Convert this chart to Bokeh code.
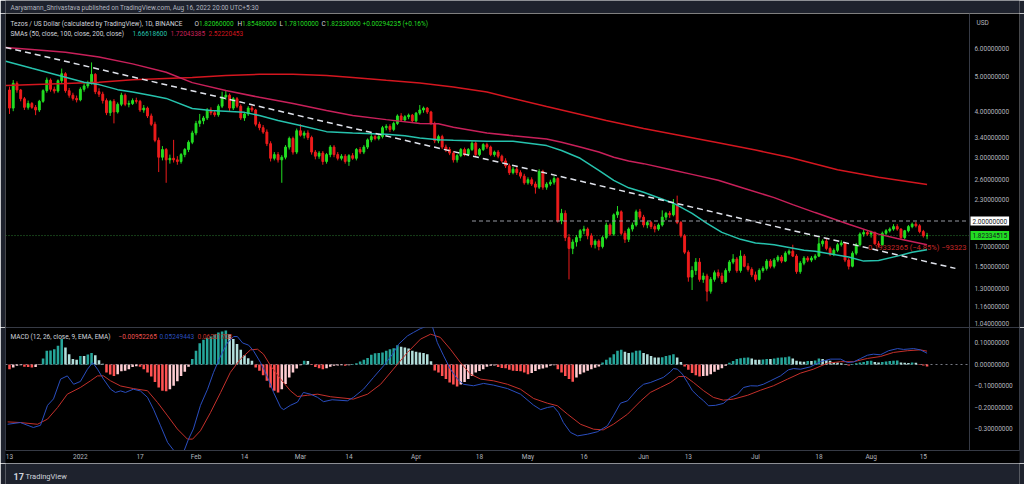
from datetime import datetime, timedelta, timezone

from bokeh.core.properties import value
from bokeh.core.validation import silence
from bokeh.core.validation.warnings import MISSING_RENDERERS
from bokeh.embed import file_html
from bokeh.layouts import column
from bokeh.models import ColumnDataSource, CustomJSTickFormatter, FixedTicker, Label, Range1d
from bokeh.plotting import figure
from bokeh.resources import INLINE

silence(MISSING_RENDERERS, True)

# ---------------------------------------------------------------- data
START_DATE = "2021-12-13"          # first daily candle, one candle per day

OPEN = [
    4.60, 4.10, 4.80, 4.60, 4.35, 4.12, 4.22, 4.12, 4.05, 4.28,
    4.58, 4.90, 4.62, 4.57, 4.88, 5.10, 4.58, 4.45, 4.36, 4.32,
    4.62, 4.72, 4.80, 5.08, 4.55, 4.48, 4.30, 3.98, 4.28, 4.00,
    4.20, 4.45, 4.20, 4.22, 4.30, 4.28, 4.05, 4.10, 3.90, 3.70,
    3.34, 3.00, 3.15, 2.95, 2.98, 2.95, 2.92, 3.05, 3.15, 3.30,
    3.50, 3.72, 3.78, 3.85, 4.05, 3.98, 3.93, 4.15, 4.40, 4.45,
    4.10, 4.35, 4.15, 3.85, 3.95, 4.10, 4.05, 3.70, 3.62, 3.52,
    3.27, 2.98, 3.05, 2.95, 3.00, 3.20, 3.38, 3.10, 3.55, 3.45,
    3.50, 3.40, 3.10, 3.02, 3.08, 2.92, 3.05, 3.20, 3.05, 2.98,
    3.02, 2.92, 3.03, 2.98, 3.15, 3.10, 3.20, 3.35, 3.42, 3.38,
    3.42, 3.62, 3.65, 3.58, 3.72, 3.90, 3.80, 3.88, 3.92, 3.78,
    3.97, 4.05, 4.10, 4.00, 3.72, 3.33, 3.42, 3.20, 3.15, 3.08,
    2.95, 3.03, 3.15, 3.05, 3.15, 3.28, 3.05, 3.15, 3.25, 3.20,
    3.05, 3.10, 3.02, 2.93, 2.84, 2.72, 2.78, 2.72, 2.66, 2.55,
    2.60, 2.53, 2.48, 2.74, 2.48, 2.53, 2.56, 2.62, 2.00, 2.10,
    1.80, 1.68, 1.75, 1.80, 1.88, 1.90, 1.82, 1.72, 1.76, 1.70,
    1.80, 1.95, 1.84, 2.08, 2.12, 1.85, 1.78, 1.90, 1.95, 2.12,
    2.05, 1.95, 1.98, 1.93, 1.90, 1.95, 2.05, 2.10, 2.08, 2.22,
    1.98, 1.82, 1.64, 1.40, 1.46, 1.54, 1.38, 1.41, 1.28, 1.38,
    1.44, 1.41, 1.36, 1.46, 1.54, 1.57, 1.46, 1.60, 1.50, 1.47,
    1.42, 1.38, 1.46, 1.48, 1.55, 1.50, 1.56, 1.59, 1.55, 1.63,
    1.65, 1.60, 1.45, 1.53, 1.58, 1.56, 1.58, 1.60, 1.73, 1.76,
    1.68, 1.62, 1.66, 1.72, 1.74, 1.56, 1.50, 1.63, 1.72, 1.84,
    1.86, 1.84, 1.86, 1.73, 1.72, 1.85, 1.88, 1.90, 1.93, 1.90,
    1.80, 1.88, 1.93, 1.96, 1.94, 1.87, 1.8206,
]
HIGH = [
    4.70, 4.90, 4.86, 4.63, 4.40, 4.30, 4.26, 4.18, 4.32, 4.62,
    4.98, 4.95, 4.70, 4.92, 5.27, 5.15, 4.66, 4.52, 4.44, 4.68,
    4.80, 4.88, 5.48, 5.12, 4.65, 4.55, 4.36, 4.32, 4.34, 4.25,
    4.52, 4.50, 4.30, 4.36, 4.38, 4.32, 4.18, 4.14, 3.96, 3.76,
    3.40, 3.22, 3.18, 3.05, 3.35, 3.02, 3.08, 3.18, 3.34, 3.55,
    3.78, 3.95, 3.90, 4.10, 4.12, 4.05, 4.20, 4.55, 4.60, 4.50,
    4.40, 4.40, 4.20, 4.00, 4.15, 4.16, 4.08, 3.76, 3.68, 3.58,
    3.32, 3.10, 3.10, 3.04, 3.24, 3.42, 3.42, 3.60, 3.70, 3.55,
    3.56, 3.44, 3.14, 3.12, 3.12, 3.08, 3.24, 3.24, 3.10, 3.06,
    3.06, 3.06, 3.08, 3.18, 3.20, 3.24, 3.38, 3.50, 3.46, 3.46,
    3.66, 3.70, 3.70, 3.76, 3.94, 3.97, 3.92, 3.96, 3.95, 4.00,
    4.18, 4.14, 4.13, 4.03, 3.76, 3.46, 3.46, 3.25, 3.20, 3.12,
    3.06, 3.18, 3.19, 3.18, 3.32, 3.32, 3.18, 3.28, 3.29, 3.23,
    3.13, 3.14, 3.05, 2.98, 2.88, 2.82, 2.82, 2.76, 2.70, 2.64,
    2.64, 2.57, 2.78, 2.77, 2.56, 2.60, 2.66, 2.64, 2.16, 2.14,
    1.84, 1.78, 1.83, 1.90, 1.94, 1.92, 1.85, 1.78, 1.78, 1.82,
    1.98, 1.97, 2.10, 2.20, 2.14, 1.88, 1.92, 1.98, 2.15, 2.16,
    2.08, 2.00, 2.00, 1.96, 1.97, 2.14, 2.12, 2.13, 2.30, 2.35,
    2.00, 1.84, 1.66, 1.50, 1.58, 1.58, 1.44, 1.43, 1.40, 1.46,
    1.47, 1.44, 1.48, 1.56, 1.62, 1.59, 1.66, 1.62, 1.53, 1.49,
    1.45, 1.48, 1.50, 1.57, 1.57, 1.58, 1.61, 1.61, 1.65, 1.67,
    1.72, 1.62, 1.55, 1.60, 1.60, 1.60, 1.62, 1.80, 1.78, 1.79,
    1.70, 1.68, 1.74, 1.77, 1.75, 1.58, 1.65, 1.74, 1.86, 1.89,
    1.88, 1.88, 1.87, 1.76, 1.87, 1.90, 1.92, 1.96, 1.96, 1.91,
    1.89, 1.95, 1.98, 1.99, 1.96, 1.89, 1.8548,
]
LOW = [
    3.95, 4.02, 4.52, 4.28, 4.05, 4.06, 4.08, 3.92, 4.00, 4.24,
    4.52, 4.55, 4.50, 4.52, 4.80, 4.52, 4.38, 4.30, 4.25, 4.28,
    4.55, 4.65, 4.76, 4.48, 4.40, 4.22, 3.92, 3.90, 3.72, 3.96,
    4.15, 4.15, 4.12, 4.18, 4.22, 4.00, 3.98, 3.85, 3.66, 3.30,
    2.73, 2.94, 2.55, 2.88, 2.90, 2.86, 2.88, 3.00, 3.10, 3.26,
    3.45, 3.64, 3.70, 3.80, 3.92, 3.88, 3.88, 4.10, 4.32, 4.02,
    4.05, 4.10, 3.80, 3.78, 3.90, 4.00, 3.65, 3.56, 3.48, 3.22,
    2.92, 2.94, 2.90, 2.55, 2.96, 3.15, 3.05, 3.06, 3.42, 3.38,
    3.35, 3.05, 2.96, 2.97, 2.86, 2.88, 3.00, 3.00, 2.94, 2.94,
    2.88, 2.84, 2.95, 2.94, 3.06, 3.06, 3.16, 3.30, 3.34, 3.34,
    3.38, 3.56, 3.52, 3.54, 3.68, 3.76, 3.76, 3.82, 3.74, 3.74,
    3.92, 3.98, 3.95, 3.68, 3.28, 3.28, 3.16, 3.10, 3.04, 2.90,
    2.90, 3.00, 3.02, 3.02, 3.12, 3.02, 3.02, 3.12, 3.16, 3.02,
    3.01, 2.98, 2.90, 2.80, 2.68, 2.69, 2.68, 2.62, 2.52, 2.52,
    2.50, 2.38, 2.45, 2.44, 2.44, 2.50, 2.52, 1.98, 1.96, 1.76,
    1.38, 1.62, 1.70, 1.76, 1.84, 1.78, 1.69, 1.68, 1.66, 1.68,
    1.78, 1.82, 1.82, 2.04, 1.83, 1.74, 1.75, 1.87, 1.93, 2.02,
    1.92, 1.91, 1.90, 1.86, 1.88, 1.93, 2.01, 2.04, 2.06, 1.96,
    1.80, 1.62, 1.36, 1.29, 1.42, 1.36, 1.35, 1.20, 1.26, 1.36,
    1.39, 1.34, 1.35, 1.44, 1.52, 1.44, 1.44, 1.49, 1.45, 1.40,
    1.36, 1.37, 1.44, 1.46, 1.48, 1.48, 1.54, 1.53, 1.54, 1.61,
    1.59, 1.43, 1.43, 1.51, 1.54, 1.54, 1.56, 1.59, 1.70, 1.66,
    1.60, 1.60, 1.64, 1.70, 1.54, 1.47, 1.49, 1.61, 1.70, 1.81,
    1.82, 1.80, 1.72, 1.69, 1.71, 1.83, 1.86, 1.88, 1.88, 1.78,
    1.78, 1.86, 1.91, 1.92, 1.85, 1.80, 1.7810,
]
CLOSE = [
    4.10, 4.80, 4.60, 4.35, 4.12, 4.22, 4.12, 4.05, 4.28, 4.58,
    4.90, 4.62, 4.57, 4.88, 5.10, 4.58, 4.45, 4.36, 4.32, 4.62,
    4.72, 4.80, 5.08, 4.55, 4.48, 4.30, 3.98, 4.28, 4.00, 4.20,
    4.45, 4.20, 4.22, 4.30, 4.28, 4.05, 4.10, 3.90, 3.70, 3.34,
    3.00, 3.15, 2.95, 2.98, 2.95, 2.92, 3.05, 3.15, 3.30, 3.50,
    3.72, 3.78, 3.85, 4.05, 3.98, 3.93, 4.15, 4.40, 4.45, 4.10,
    4.35, 4.15, 3.85, 3.95, 4.10, 4.05, 3.70, 3.62, 3.52, 3.27,
    2.98, 3.05, 2.95, 3.00, 3.20, 3.38, 3.10, 3.55, 3.45, 3.50,
    3.40, 3.10, 3.02, 3.08, 2.92, 3.05, 3.20, 3.05, 2.98, 3.02,
    2.92, 3.03, 2.98, 3.15, 3.10, 3.20, 3.35, 3.42, 3.38, 3.42,
    3.62, 3.65, 3.58, 3.72, 3.90, 3.80, 3.88, 3.92, 3.78, 3.97,
    4.05, 4.10, 4.00, 3.72, 3.33, 3.42, 3.20, 3.15, 3.08, 2.95,
    3.03, 3.15, 3.05, 3.15, 3.28, 3.05, 3.15, 3.25, 3.20, 3.05,
    3.10, 3.02, 2.93, 2.84, 2.72, 2.78, 2.72, 2.66, 2.55, 2.60,
    2.53, 2.48, 2.74, 2.48, 2.53, 2.56, 2.62, 2.00, 2.10, 1.80,
    1.68, 1.75, 1.80, 1.88, 1.90, 1.82, 1.72, 1.76, 1.70, 1.80,
    1.95, 1.84, 2.08, 2.12, 1.85, 1.78, 1.90, 1.95, 2.12, 2.05,
    1.95, 1.98, 1.93, 1.90, 1.95, 2.05, 2.10, 2.08, 2.22, 1.98,
    1.82, 1.64, 1.40, 1.46, 1.54, 1.38, 1.41, 1.28, 1.38, 1.44,
    1.41, 1.36, 1.46, 1.54, 1.57, 1.46, 1.60, 1.50, 1.47, 1.42,
    1.38, 1.46, 1.48, 1.55, 1.50, 1.56, 1.59, 1.55, 1.63, 1.65,
    1.60, 1.45, 1.53, 1.58, 1.56, 1.58, 1.60, 1.73, 1.76, 1.68,
    1.62, 1.66, 1.72, 1.74, 1.56, 1.50, 1.63, 1.72, 1.84, 1.86,
    1.84, 1.86, 1.73, 1.72, 1.85, 1.88, 1.90, 1.93, 1.90, 1.80,
    1.88, 1.93, 1.96, 1.94, 1.87, 1.8204, 1.8233,
]
LAST_PRICE = 1.82334515

# Simple moving averages (day offset from START_DATE, price)
SMA50_T = [-1, 6, 15, 20, 24, 29, 33, 38, 42, 49, 54, 63, 67, 72, 78, 85, 92, 101, 106, 110,
           115, 119, 128, 135, 144, 148, 153, 158, 162, 166, 170, 178, 183, 187, 191, 196, 200,
           205, 209, 213, 216, 225, 229, 233, 238, 242, 246]
SMA50_V = [5.52, 5.28, 4.99, 4.83, 4.76, 4.61, 4.54, 4.44, 4.36, 4.09, 4.04, 3.99, 3.91, 3.79,
           3.67, 3.53, 3.50, 3.47, 3.44, 3.39, 3.35, 3.34, 3.32, 3.32, 3.23, 3.13, 2.98, 2.76,
           2.59, 2.47, 2.40, 2.24, 2.10, 1.97, 1.86, 1.78, 1.74, 1.72, 1.69, 1.66, 1.65, 1.59,
           1.55, 1.556, 1.60, 1.64, 1.666]
SMA100_T = [-1, 6, 15, 24, 33, 42, 49, 58, 67, 76, 85, 92, 101, 110, 115, 119, 128, 135, 144,
            148, 153, 158, 162, 166, 170, 178, 183, 190, 196, 205, 210, 216, 225, 233, 238, 246]
SMA100_V = [6.03, 5.95, 5.85, 5.67, 5.43, 5.15, 4.82, 4.585, 4.39, 4.22, 4.04, 3.91, 3.81, 3.72,
            3.71, 3.63, 3.50, 3.44, 3.37, 3.30, 3.20, 3.10, 3.00, 2.93, 2.88, 2.76, 2.69, 2.59,
            2.48, 2.32, 2.22, 2.11, 1.96, 1.84, 1.79, 1.72]
SMA200_T = [-1, 15, 24, 33, 42, 49, 58, 67, 76, 85, 92, 101, 110, 119, 128, 144, 160, 170, 190,
            200, 209, 222, 233, 246]
SMA200_V = [4.73, 4.79, 4.83, 4.91, 4.95, 4.98, 5.04, 5.08, 5.08, 5.04, 4.98, 4.89, 4.81, 4.69,
            4.54, 4.14, 3.79, 3.60, 3.29, 3.14, 3.00, 2.77, 2.64, 2.522]
SMA_LAST = ["1.66618600", "1.72043385", "2.52220453"]

# Drawings on the price pane
TREND_T = [-1.07, 253.6]
TREND_P = [6.03, 1.48]
HLINE_T0 = 124
HLINE_P = 2.0
MEASURE_T = 229.0
MEASURE_P = 1.685
MEASURE_TEXT = "\u22120.19332365 (\u22124.85%) \u221293323"

# MACD (12, 26, 9) histogram, one bar per candle
HIST = [
    -0.022, -0.014, -0.006, -0.003, -0.011, -0.012, -0.014, -0.012, -0.002, 0.028,
    0.064, 0.065, 0.071, 0.087, 0.118, 0.079, 0.048, 0.025, 0.022, 0.040,
    0.040, 0.047, 0.053, 0.043, 0.020, 0.003, -0.037, -0.047, -0.053, -0.045,
    -0.031, -0.029, -0.022, -0.012, -0.008, -0.011, -0.022, -0.037, -0.056, -0.081,
    -0.107, -0.122, -0.124, -0.115, -0.099, -0.078, -0.053, -0.034, -0.011, 0.025,
    0.064, 0.099, 0.115, 0.124, 0.130, 0.140, 0.149, 0.153, 0.158, 0.141,
    0.118, 0.095, 0.068, 0.043, 0.029, 0.017, -0.014, -0.029, -0.050, -0.076,
    -0.107, -0.122, -0.130, -0.115, -0.091, -0.060, -0.037, -0.019, -0.003, 0.017,
    0.016, -0.002, -0.012, -0.017, -0.022, -0.018, -0.010, -0.006, -0.005, -0.004,
    -0.006, -0.003, 0.002, 0.006, 0.014, 0.022, 0.030, 0.045, 0.052, 0.053,
    0.056, 0.064, 0.071, 0.075, 0.090, 0.083, 0.079, 0.074, 0.064, 0.059,
    0.056, 0.053, 0.048, 0.015, -0.028, -0.037, -0.053, -0.068, -0.084, -0.093,
    -0.102, -0.093, -0.081, -0.068, -0.053, -0.037, -0.030, -0.022, -0.010, -0.006,
    -0.005, -0.012, -0.016, -0.018, -0.025, -0.029, -0.030, -0.031, -0.037, -0.045,
    -0.040, -0.030, -0.022, -0.019, -0.014, -0.006, -0.003, -0.022, -0.037, -0.053,
    -0.068, -0.080, -0.060, -0.045, -0.037, -0.029, -0.022, -0.015, -0.009, 0.009,
    0.022, 0.033, 0.048, 0.064, 0.068, 0.059, 0.053, 0.056, 0.064, 0.065,
    0.053, 0.048, 0.040, 0.033, 0.033, 0.034, 0.039, 0.043, 0.048, 0.033,
    0.012, -0.009, -0.025, -0.040, -0.050, -0.056, -0.053, -0.052, -0.045, -0.034,
    -0.025, -0.017, -0.006, 0.008, 0.016, 0.025, 0.029, 0.031, 0.032, 0.028,
    0.022, 0.022, 0.023, 0.026, 0.025, 0.028, 0.031, 0.033, 0.034, 0.037,
    0.028, 0.017, 0.014, 0.013, 0.016, 0.016, 0.019, 0.028, 0.025, 0.020,
    0.017, 0.012, 0.009, 0.006, 0.002, -0.005, 0.002, 0.006, 0.009, 0.012,
    0.016, 0.017, 0.012, 0.009, 0.012, 0.014, 0.016, 0.017, 0.018, 0.009,
    0.008, 0.007, 0.009, 0.008, -0.002, -0.005, -0.0095,
]
MACD_T = [-0.5, 2.9, 6.4, 8.3, 10.2, 11.8, 13.7, 15.5, 17.2, 19, 20.9, 22.3, 23.6, 25.2, 27.1,
          28.4, 29.8, 31.1, 33.2, 35.1, 37, 38.6, 40.5, 42.4, 44.5, 46.4, 48, 49.3, 51.2, 53.1,
          54.7, 56.6, 58.4, 60.1, 61.1, 62.5, 64.1, 65.4, 67.3, 69.2, 70.8, 72.7, 73.5, 75.3,
          77.2, 78.8, 80.7, 82.6, 84.2, 86.5, 90.6, 92.2, 94.9, 97.6, 100.3, 102.7, 104.3,
          106.7, 108.3, 110.2, 112.1, 113.4, 114.7, 116.4, 118.2, 120.1, 121.7, 124.4, 127.1,
          129.8, 133.5, 137, 140.5, 142.4, 144.2, 145.8, 147.2, 148.5, 150.4, 152.3, 155,
          157.6, 160.3, 161.9, 163.8, 165.7, 168.4, 170, 171.8, 175.3, 177.2, 178, 179.1,
          180.4, 181.8, 183.1, 184.7, 186.1, 187.4, 189.3, 191.4, 193.3, 195.2, 196.8, 198.7,
          200.5, 202.1, 204, 206.7, 208.8, 210.2, 212.1, 214.7, 217.4, 220.1, 222.8, 224.7,
          226.3, 228.2, 230, 231.6, 233.5, 235.7, 238.1, 239.7, 242.4, 244.2, 246]
MACD_V = [-0.278, -0.27, -0.293, -0.283, -0.19, -0.16, -0.068, -0.053, -0.092, -0.079, -0.022,
          0.009, -0.022, -0.068, -0.115, -0.13, -0.123, -0.13, -0.115, -0.123, -0.153, -0.208,
          -0.285, -0.363, -0.41, -0.42, -0.347, -0.30, -0.19, -0.115, -0.037, 0.04, 0.10, 0.13,
          0.13, 0.10, 0.09, 0.064, 0.009, -0.06, -0.13, -0.2, -0.21, -0.19, -0.175, -0.13,
          -0.138, -0.153, -0.173, -0.164, -0.169, -0.153, -0.115, -0.06, -0.006, 0.048, 0.094,
          0.133, 0.149, 0.167, 0.18, 0.175, 0.102, 0.04, -0.022, -0.068, -0.092, -0.099,
          -0.088, -0.096, -0.112, -0.138, -0.189, -0.21, -0.2, -0.195, -0.223, -0.27, -0.316,
          -0.332, -0.324, -0.313, -0.285, -0.239, -0.18, -0.169, -0.115, -0.092, -0.084, -0.06,
          -0.034, -0.019, -0.022, -0.045, -0.084, -0.122, -0.149, -0.169, -0.192, -0.19,
          -0.181, -0.153, -0.138, -0.107, -0.099, -0.1, -0.092, -0.076, -0.053, -0.025,
          -0.019, -0.022, -0.011, 0.013, 0.025, 0.025, 0.009, 0.012, 0.028, 0.043, 0.048,
          0.045, 0.064, 0.074, 0.07, 0.074, 0.068, 0.0525]
SIGNAL_T = [-0.5, 2.9, 7.5, 10.2, 12.9, 15.5, 19, 21.7, 23.6, 25.2, 27.1, 29.8, 33.2, 37, 39.7,
            42.4, 45, 47.7, 49.1, 51.2, 53.9, 56.6, 59.2, 61.9, 64.6, 66.5, 68.1, 70, 72.7,
            75.3, 77.2, 79.9, 82.6, 86.1, 92.2, 96, 99.5, 102.9, 106.7, 110.2, 112.9, 115.5,
            118.2, 120.9, 123.6, 126.3, 129.8, 133.5, 137, 140.5, 144.2, 146.9, 149.6, 153.1,
            156.6, 159.2, 161.9, 165.7, 169.2, 171.8, 174.5, 177.2, 179.4, 181.2, 183.4, 186.1,
            188.7, 191.4, 194.1, 197.9, 201.3, 204.8, 208.6, 212.1, 215.5, 219.3, 222.8, 226.3,
            230, 233.5, 237, 240.7, 244.2, 246]
SIGNAL_V = [-0.267, -0.27, -0.278, -0.254, -0.2, -0.138, -0.107, -0.076, -0.053, -0.053, -0.076,
            -0.1, -0.112, -0.122, -0.177, -0.239, -0.30, -0.347, -0.347, -0.308, -0.223, -0.13,
            -0.037, 0.025, 0.068, 0.071, 0.048, -0.006, -0.068, -0.122, -0.149, -0.143, -0.138,
            -0.15, -0.161, -0.138, -0.092, -0.022, 0.056, 0.118, 0.141, 0.126, 0.071, 0.009,
            -0.045, -0.068, -0.076, -0.092, -0.115, -0.158, -0.18, -0.192, -0.231, -0.278,
            -0.301, -0.304, -0.278, -0.231, -0.17, -0.13, -0.107, -0.084, -0.056, -0.056,
            -0.084, -0.122, -0.153, -0.166, -0.161, -0.143, -0.12, -0.099, -0.068, -0.04,
            -0.022, 0.006, 0.013, 0.013, 0.028, 0.037, 0.056, 0.064, 0.068, 0.062]
MACD_LAST = ["\u22120.00952265", "0.05249443", "0.06201708"]

PRICE_TICKS = [6.0, 5.0, 4.0, 3.4, 3.0, 2.6, 2.3, 1.7, 1.5, 1.3, 1.16, 1.04]
MACD_TICKS = [0.1, 0.0, -0.1, -0.2, -0.3]
TIME_TICKS = ["2021-12-13", "2022-01-01", "2022-01-17", "2022-02-01", "2022-02-14",
              "2022-03-01", "2022-03-14", "2022-04-01", "2022-04-18", "2022-05-01",
              "2022-05-16", "2022-06-01", "2022-06-13", "2022-07-01", "2022-07-18",
              "2022-08-01", "2022-08-15"]
TIME_LABELS = ["13", "2022", "17", "Feb", "14", "Mar", "14", "Apr", "18", "May", "16", "Jun",
               "13", "Jul", "18", "Aug", "15"]

# ---------------------------------------------------------------- style / layout
FONT = "Roboto"
FS = "6.5px"
CHROME = "#1e222d"
SEP = "#363a45"
TXT = "#d1d4dc"
AXT = "#b2b5be"
UP = "#22dd22"
DOWN = "#ee1c1c"
C50 = "#26c2ad"
C100 = "#c8205a"
C200 = "#d4161f"
MACD_C = "#2a4ebf"
SIG_C = "#c4302b"
H_UP, H_UP_WEAK, H_DN, H_DN_WEAK = "#26a69a", "#b2dfdb", "#ff5252", "#ffcdd2"

VIEW_START, AXIS_AT, VIEW_END = -1.072, 257.37, 270.78   # in days from START_DATE
PAGE_W = 1024
SIDE = 5
FW = PAGE_W - 2 * SIDE

BASE = datetime.strptime(START_DATE, "%Y-%m-%d").replace(tzinfo=timezone.utc)
DAY_MS = 86400000.0


def to_ms(day):
    return (BASE + timedelta(days=day)).timestamp() * 1000.0


def date_ms(s):
    return datetime.strptime(s, "%Y-%m-%d").replace(tzinfo=timezone.utc).timestamp() * 1000.0


def lab(fig, x, y, text, color=TXT, size=FS, **kw):
    fig.add_layout(Label(x=x, y=y, x_units="screen", y_units="screen", text=text,
                         text_font=FONT, text_font_size=size, text_color=color,
                         text_baseline="middle", text_align="left", **kw))


FMT8 = "return tick.toFixed(8).replace('-', '\\u2212');"

x_range = Range1d(to_ms(VIEW_START), to_ms(VIEW_END))
x_axis_ms = to_ms(AXIS_AT)

# ---------------------------------------------------------------- header
header = figure(width=PAGE_W, height=13, x_axis_location=None, y_axis_location=None,
                toolbar_location=None, output_backend="svg", min_border=0,
                background_fill_color=CHROME, border_fill_color=CHROME, outline_line_color=None)
header.grid.visible = False
lab(header, 5, 6, "Aaryamann_Shrivastava published on TradingView.com, Aug 16, 2022 20:00 UTC+5:30",
    color=AXT)

# ---------------------------------------------------------------- price pane
PH = 314
p = figure(frame_width=FW, frame_height=PH, x_range=x_range, y_range=Range1d(1.0163, 7.48),
           x_axis_type="datetime", y_axis_type="log", x_axis_location=None,
           y_axis_location="right", toolbar_location=None, output_backend="svg",
           min_border_left=SIDE, min_border_right=SIDE, min_border_top=0, min_border_bottom=0,
           background_fill_color="black", border_fill_color=CHROME, outline_line_color=None)
p.grid.visible = False
p.yaxis.fixed_location = x_axis_ms
p.yaxis.ticker = FixedTicker(ticks=PRICE_TICKS)
p.yaxis.formatter = CustomJSTickFormatter(code=FMT8)

# current-price dotted line
p.line([to_ms(VIEW_START), x_axis_ms], [LAST_PRICE, LAST_PRICE], line_color="#2e7d32",
       line_dash="1 2", line_width=1)

p.text(x=[to_ms(MEASURE_T)], y=[MEASURE_P], text=[MEASURE_TEXT], text_font=value(FONT),
       text_font_size=value("7.5px"), text_color="#c62828", text_baseline="middle",
       text_align="left")

xs = [to_ms(d) for d in range(len(CLOSE))]
src = ColumnDataSource(dict(
    x=xs, high=HIGH, low=LOW,
    top=[max(o, c) for o, c in zip(OPEN, CLOSE)],
    bottom=[min(o, c) for o, c in zip(OPEN, CLOSE)],
    color=[UP if c >= o else DOWN for o, c in zip(OPEN, CLOSE)],
))
p.segment(x0="x", y0="low", x1="x", y1="high", line_color="color", line_width=1, source=src)
p.vbar(x="x", width=0.5 * DAY_MS, top="top", bottom="bottom", fill_color="color",
       line_color="color", line_width=1, source=src)

p.line([to_ms(t) for t in SMA200_T], SMA200_V, line_color=C200, line_width=1.5)
p.line([to_ms(t) for t in SMA100_T], SMA100_V, line_color=C100, line_width=1.5)
p.line([to_ms(t) for t in SMA50_T], SMA50_V, line_color=C50, line_width=1.5)
p.line([to_ms(t) for t in TREND_T], TREND_P, line_color="#e0e3eb", line_width=1.5,
       line_dash="6 4")
p.line([to_ms(HLINE_T0), x_axis_ms], [HLINE_P, HLINE_P], line_color="#9598a1", line_width=1,
       line_dash="4 3")

# legend lines
lab(p, 5, PH - 10, "Tezos / US Dollar (calculated by TradingView), 1D, BINANCE")
for px, letter, val in [(189, "O", OPEN[-1]), (232, "H", HIGH[-1]), (274, "L", LOW[-1]),
                        (316, "C", CLOSE[-1])]:
    lab(p, px, PH - 10, letter)
    lab(p, px + 4.5, PH - 10, "%.8f" % val, color=UP)
lab(p, 357, PH - 10, "+0.00294235 (+0.16%)", color=UP)
lab(p, 5, PH - 20, "SMAs (50, close, 100, close, 200, close)")
lab(p, 127, PH - 20, SMA_LAST[0], color=C50)
lab(p, 165, PH - 20, SMA_LAST[1], color=C100)
lab(p, 203, PH - 20, SMA_LAST[2], color=C200)
lab(p, 971, PH - 9, "USD", color=AXT)

# axis value boxes
p.add_layout(Label(x=965, y=HLINE_P, x_units="screen", y_units="data", text="%.8f" % HLINE_P,
                   text_font=FONT, text_font_size=FS, text_color="#131722",
                   text_baseline="middle", background_fill_color="#ffffff", padding=2))
p.add_layout(Label(x=965, y=LAST_PRICE, x_units="screen", y_units="data",
                   text="%.8f" % LAST_PRICE, text_font=FONT, text_font_size=FS,
                   text_color="#131722", text_baseline="middle", background_fill_color=UP,
                   padding=2))

# ---------------------------------------------------------------- MACD pane
MH = 123
p2 = figure(frame_width=FW, frame_height=MH, x_range=x_range, y_range=Range1d(-0.4, 0.172),
            x_axis_type="datetime", y_axis_location="right", toolbar_location=None,
            output_backend="svg", min_border_left=SIDE, min_border_top=0,
            min_border_right=SIDE, min_border_bottom=10, background_fill_color="black",
            border_fill_color=CHROME, outline_line_color=SEP)
p2.grid.visible = False
p2.yaxis.fixed_location = x_axis_ms
p2.yaxis.ticker = FixedTicker(ticks=MACD_TICKS)
p2.yaxis.formatter = CustomJSTickFormatter(code=FMT8)
tick_ms = [date_ms(s) for s in TIME_TICKS]
p2.xaxis.ticker = FixedTicker(ticks=tick_ms)
p2.xaxis.formatter = CustomJSTickFormatter(
    args=dict(tpos=tick_ms, tlab=TIME_LABELS),
    code="for (let i = 0; i < tpos.length; i++) { if (Math.abs(tpos[i] - tick) < 1000) return tlab[i]; } return '';")
try:
    p2.xaxis[0].background_fill_color = "black"
except AttributeError:
    p2.border_fill_color = "black"

# zero level
p2.line([to_ms(VIEW_START), x_axis_ms], [0, 0], line_color="#787b86", line_dash="2 3",
        line_width=1)

hcol = []
for i, h in enumerate(HIST):
    prev = HIST[i - 1] if i > 0 else h
    if h >= 0:
        hcol.append(H_UP if (h > prev or i == 0) else H_UP_WEAK)
    else:
        hcol.append(H_DN_WEAK if h > prev else H_DN)
p2.vbar(x=xs, width=0.68 * DAY_MS, top=HIST, bottom=0, fill_color=hcol, line_color=None)
p2.line([to_ms(t) for t in SIGNAL_T], SIGNAL_V, line_color=SIG_C, line_width=1)
p2.line([to_ms(t) for t in MACD_T], MACD_V, line_color=MACD_C, line_width=1)

lab(p2, 5, MH - 9, "MACD (12, 26, close, 9, EMA, EMA)")
lab(p2, 113, MH - 9, MACD_LAST[0], color="#ef5350")
lab(p2, 154, MH - 9, MACD_LAST[1], color=MACD_C)
lab(p2, 192, MH - 9, MACD_LAST[2], color=SIG_C)

for ax in [p.yaxis[0], p2.yaxis[0], p2.xaxis[0]]:
    ax.major_label_text_font = FONT
    ax.major_label_text_font_size = FS
    ax.major_label_text_color = AXT
    ax.major_tick_line_color = None
    ax.minor_tick_line_color = None
    ax.major_tick_out = 0
    ax.major_tick_in = 0
    ax.minor_tick_out = 0
    ax.minor_tick_in = 0
    ax.axis_line_color = SEP
p.yaxis.major_label_standoff = 5
p2.yaxis.major_label_standoff = 5
p2.xaxis.major_label_standoff = 2

# ---------------------------------------------------------------- footer
footer = figure(width=PAGE_W, height=24, x_axis_location=None, y_axis_location=None,
                toolbar_location=None, output_backend="svg", min_border=0,
                background_fill_color=CHROME, border_fill_color=CHROME, outline_line_color=None)
footer.grid.visible = False
lab(footer, 8, 11, "17", color=TXT, size="9px", text_font_style="bold")
lab(footer, 20, 11, "TradingView", color=TXT, size="7.5px")

layout = column(header, p, p2, footer, spacing=0)
open("out.html", "w").write(file_html(layout, INLINE, title="Tezos / US Dollar"))
